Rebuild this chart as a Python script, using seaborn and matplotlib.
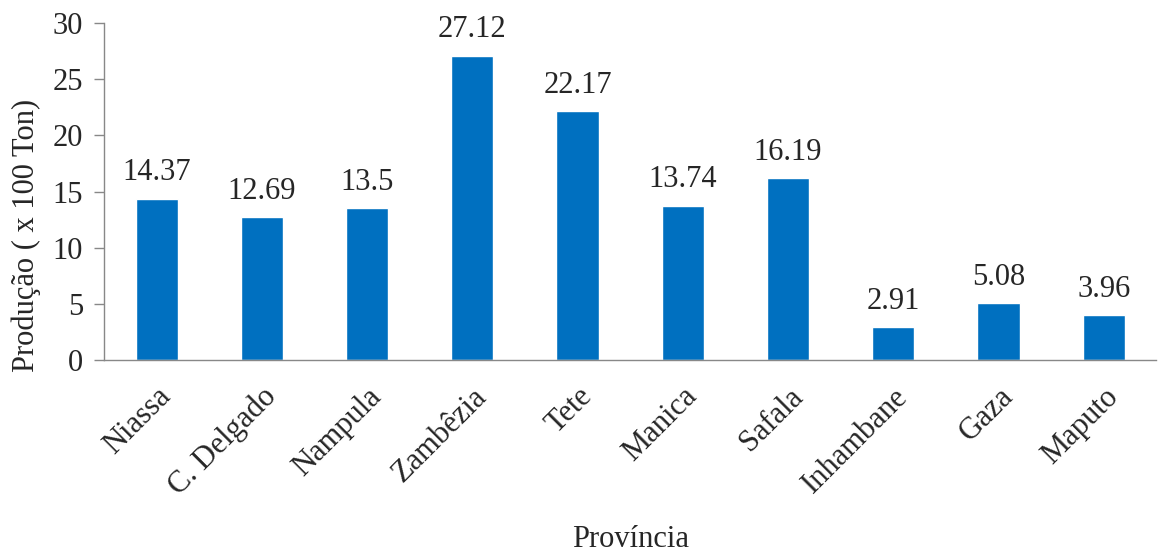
import pandas as pd
import seaborn as sns
import matplotlib.pyplot as plt

provinces = ['Niassa', 'C. Delgado', 'Nampula', 'Zambêzia', 'Tete',
             'Manica', 'Safala', 'Inhambane', 'Gaza', 'Maputo']
production = [14.37, 12.69, 13.5, 27.12, 22.17, 13.74, 16.19, 2.91, 5.08, 3.96]
value_labels = ['14.37', '12.69', '13.5', '27.12', '22.17',
                '13.74', '16.19', '2.91', '5.08', '3.96']

df = pd.DataFrame({'Província': provinces, 'Produção': production})

sns.set_style('white')
plt.rcParams['font.family'] = ['Liberation Serif', 'DejaVu Serif']

fig = plt.figure(figsize=(11.59, 5.52), dpi=100)
ax = fig.add_axes([0.0897, 0.348, 0.908, 0.61])

sns.barplot(data=df, x='Província', y='Produção', color='#0070C0',
            saturation=1, width=0.4, ax=ax)

for i, (v, lab) in enumerate(zip(production, value_labels)):
    ax.text(i, v + 1.0, lab, ha='center', va='bottom', fontsize=22)

ax.set_ylim(0, 30)
ax.set_xlim(-0.5, 9.5)
ax.set_yticks(range(0, 31, 5))
ax.tick_params(axis='y', labelsize=22, length=7, width=1, color='#888888',
               direction='out', left=True, pad=8)
ax.tick_params(axis='x', labelsize=22, length=0, pad=16)
plt.setp(ax.get_xticklabels(), rotation=45, ha='right', rotation_mode='anchor')

for s in ['top', 'right']:
    ax.spines[s].set_visible(False)
for s in ['left', 'bottom']:
    ax.spines[s].set_color('#888888')
    ax.spines[s].set_linewidth(1)

ax.set_ylabel('Produção ( x 100 Ton)', fontsize=22)
ax.yaxis.set_label_coords(-0.06, 0.37)
ax.set_xlabel('Província', fontsize=22)
ax.xaxis.set_label_coords(0.5, -0.49)

fig.savefig('out.png', dpi=100)
